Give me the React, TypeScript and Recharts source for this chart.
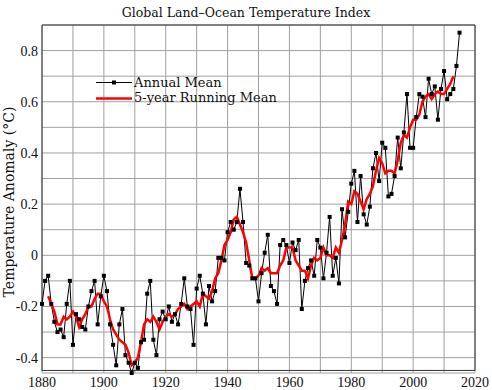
import React from "react";
import { LineChart, Line, XAxis, YAxis, CartesianGrid, ReferenceArea } from "recharts";

// GISS land-ocean index, anomaly in °C
const years = [
  1880, 1881, 1882, 1883, 1884, 1885, 1886, 1887, 1888, 1889,
  1890, 1891, 1892, 1893, 1894, 1895, 1896, 1897, 1898, 1899,
  1900, 1901, 1902, 1903, 1904, 1905, 1906, 1907, 1908, 1909,
  1910, 1911, 1912, 1913, 1914, 1915, 1916, 1917, 1918, 1919,
  1920, 1921, 1922, 1923, 1924, 1925, 1926, 1927, 1928, 1929,
  1930, 1931, 1932, 1933, 1934, 1935, 1936, 1937, 1938, 1939,
  1940, 1941, 1942, 1943, 1944, 1945, 1946, 1947, 1948, 1949,
  1950, 1951, 1952, 1953, 1954, 1955, 1956, 1957, 1958, 1959,
  1960, 1961, 1962, 1963, 1964, 1965, 1966, 1967, 1968, 1969,
  1970, 1971, 1972, 1973, 1974, 1975, 1976, 1977, 1978, 1979,
  1980, 1981, 1982, 1983, 1984, 1985, 1986, 1987, 1988, 1989,
  1990, 1991, 1992, 1993, 1994, 1995, 1996, 1997, 1998, 1999,
  2000, 2001, 2002, 2003, 2004, 2005, 2006, 2007, 2008, 2009,
  2010, 2011, 2012, 2013, 2014, 2015,
];

const annualMean = [
  -0.19, -0.10, -0.08, -0.19, -0.26, -0.30, -0.29, -0.32, -0.19, -0.10,
  -0.35, -0.23, -0.25, -0.28, -0.29, -0.20, -0.14, -0.10, -0.27, -0.16,
  -0.08, -0.14, -0.27, -0.35, -0.43, -0.27, -0.21, -0.39, -0.42, -0.46,
  -0.42, -0.44, -0.34, -0.33, -0.15, -0.10, -0.33, -0.39, -0.25, -0.22,
  -0.25, -0.20, -0.26, -0.23, -0.27, -0.19, -0.09, -0.20, -0.21, -0.35,
  -0.13, -0.08, -0.15, -0.27, -0.12, -0.18, -0.14, -0.01, -0.01, -0.02,
  0.09, 0.13, 0.10, 0.13, 0.26, 0.13, -0.03, -0.04, -0.09, -0.09,
  -0.18, -0.07, 0.01, 0.08, -0.12, -0.14, -0.19, 0.04, 0.06, 0.04,
  -0.03, 0.05, 0.02, 0.06, -0.21, -0.10, -0.05, -0.02, -0.08, 0.06,
  0.03, -0.09, 0.01, 0.15, -0.08, -0.01, -0.11, 0.18, 0.07, 0.17,
  0.28, 0.33, 0.13, 0.31, 0.16, 0.12, 0.19, 0.34, 0.40, 0.29,
  0.44, 0.42, 0.23, 0.24, 0.31, 0.46, 0.34, 0.48, 0.63, 0.42,
  0.42, 0.54, 0.63, 0.62, 0.54, 0.69, 0.63, 0.66, 0.53, 0.65,
  0.72, 0.61, 0.63, 0.65, 0.74, 0.87,
];

const runningMean = [
  null, null, -0.16, -0.19, -0.22, -0.27, -0.27, -0.24, -0.25, -0.24,
  -0.22, -0.24, -0.28, -0.25, -0.23, -0.20, -0.20, -0.17, -0.15, -0.15,
  -0.18, -0.20, -0.25, -0.29, -0.31, -0.33, -0.34, -0.35, -0.38, -0.43,
  -0.42, -0.40, -0.34, -0.27, -0.25, -0.26, -0.24, -0.26, -0.29, -0.26,
  -0.24, -0.23, -0.24, -0.23, -0.21, -0.20, -0.19, -0.21, -0.20, -0.19,
  -0.18, -0.20, -0.15, -0.16, -0.17, -0.14, -0.09, -0.07, -0.02, 0.04,
  0.06, 0.09, 0.14, 0.15, 0.12, 0.09, 0.05, -0.02, -0.09, -0.09,
  -0.08, -0.05, -0.06, -0.05, -0.07, -0.07, -0.07, -0.04, -0.02, 0.03,
  0.03, 0.03, -0.02, -0.04, -0.06, -0.06, -0.09, -0.04, -0.01, -0.02,
  -0.01, 0.03, 0.00, 0.00, -0.01, 0.03, 0.01, 0.06, 0.12, 0.21,
  0.20, 0.25, 0.24, 0.21, 0.18, 0.22, 0.24, 0.27, 0.33, 0.38,
  0.36, 0.32, 0.33, 0.33, 0.32, 0.37, 0.44, 0.47, 0.46, 0.50,
  0.53, 0.53, 0.55, 0.60, 0.62, 0.63, 0.61, 0.63, 0.64, 0.63,
  0.63, 0.65, 0.67, 0.70, null, null,
];

const yearTicks = [1880, 1890, 1900, 1910, 1920, 1930, 1940, 1950, 1960, 1970, 1980, 1990, 2000, 2010, 2020];
const yearLabels = [1880, 1900, 1920, 1940, 1960, 1980, 2000, 2020];
const anomalyTicks = [-0.4, -0.3, -0.2, -0.1, 0, 0.1, 0.2, 0.3, 0.4, 0.5, 0.6, 0.7, 0.8];
const anomalyLabels = [-0.4, -0.2, 0, 0.2, 0.4, 0.6, 0.8];

const data = years.map((year, i) => ({ year, annual: annualMean[i], running: runningMean[i] }));

const SERIF = "'DejaVu Serif', serif";
const TICK_FONT = "'Liberation Serif', serif";
const GRID = "#a0a0a0";

function SquareDot(props: any) {
  const { cx, cy, index } = props;
  if (cx == null || cy == null) return <g key={index} />;
  return <rect key={index} x={cx - 2} y={cy - 2} width={4} height={4} fill="#000" />;
}

export default function App() {
  return (
    <div style={{ position: "absolute", left: 0, top: 0, width: 492, height: 390, background: "#fff" }}>
      <LineChart width={492} height={390} data={data} margin={{ top: 25, right: 17, bottom: 0, left: 0 }}>
        <CartesianGrid stroke={GRID} strokeWidth={1} />
        <XAxis
          dataKey="year"
          type="number"
          domain={[1880, 2020]}
          ticks={yearTicks}
          tickFormatter={(v: number) => (yearLabels.includes(v) ? String(v) : "")}
          tick={{ fontSize: 14, fill: "#111", fontFamily: TICK_FONT }}
          tickSize={0}
          tickMargin={4}
          axisLine={false}
          height={17}
        />
        <YAxis
          type="number"
          domain={[-0.45, 0.9]}
          ticks={anomalyTicks}
          tickFormatter={(v: number) => (anomalyLabels.includes(v) ? (v === 0 ? "0" : v.toFixed(1)) : "")}
          tick={{ fontSize: 14, fill: "#111", fontFamily: TICK_FONT }}
          tickSize={0}
          tickMargin={4}
          axisLine={false}
          width={42}
        />
        <ReferenceArea x1={1880} x2={2020} y1={-0.45} y2={0.9} fill="none" stroke="#333" strokeWidth={1} />
        <Line
          dataKey="annual"
          type="linear"
          stroke="#000"
          strokeWidth={1}
          dot={SquareDot}
          isAnimationActive={false}
        />
        <Line
          dataKey="running"
          type="linear"
          stroke="#ff0000"
          strokeWidth={2.5}
          dot={false}
          connectNulls={false}
          isAnimationActive={false}
        />
      </LineChart>
      <svg width={492} height={390} style={{ position: "absolute", left: 0, top: 0, pointerEvents: "none" }}>
        <text x={246} y={17} textAnchor="middle" fontFamily={SERIF} fontSize={12.5} fill="#111">
          Global Land–Ocean Temperature Index
        </text>
        <text
          x={14}
          y={202}
          textAnchor="middle"
          fontFamily={SERIF}
          fontSize={14}
          fill="#111"
          transform="rotate(-90 14 202)"
        >
          Temperature Anomaly (°C)
        </text>
        <line x1={96} y1={82.5} x2={132} y2={82.5} stroke="#000" strokeWidth={1} />
        <rect x={112} y={80.5} width={4} height={4} fill="#000" />
        <text x={134} y={87} fontFamily={SERIF} fontSize={13} fill="#111">Annual Mean</text>
        <line x1={96} y1={98.5} x2={132} y2={98.5} stroke="#ff0000" strokeWidth={2.5} />
        <text x={134} y={102} fontFamily={SERIF} fontSize={13} fill="#111">5-year Running Mean</text>
      </svg>
    </div>
  );
}
